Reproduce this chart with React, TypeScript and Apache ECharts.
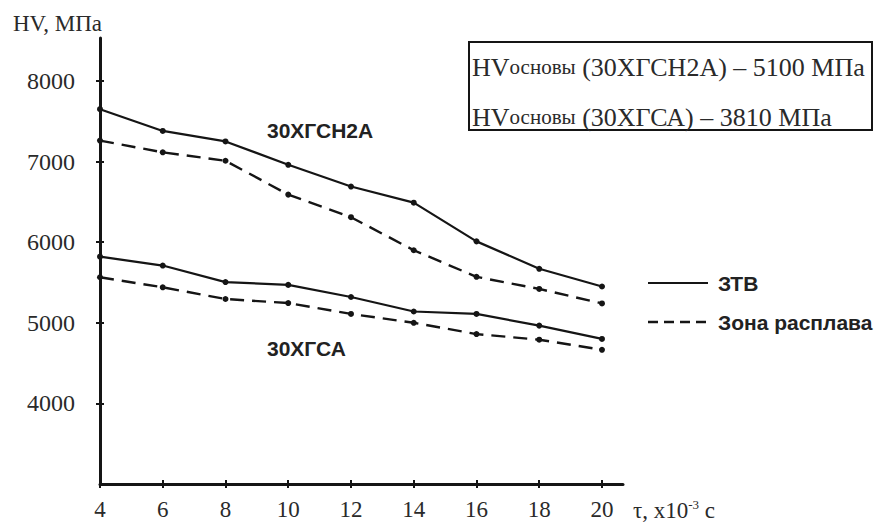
import React, { useEffect, useRef } from "react";
import * as echarts from "echarts";

const tau = [4, 6, 8, 10, 12, 14, 16, 18, 20];
const hvSN2A_ZTV = [7650, 7380, 7250, 6960, 6690, 6490, 6010, 5670, 5450];
const hvSN2A_melt = [7260, 7115, 7010, 6590, 6310, 5900, 5570, 5420, 5240];
const hvSA_ZTV = [5820, 5710, 5505, 5470, 5320, 5140, 5110, 4965, 4800];
const hvSA_melt = [5565, 5440, 5295, 5245, 5110, 5000, 4860, 4790, 4665];
const yTicks = [4000, 5000, 6000, 7000, 8000];
const xTicks = [4, 6, 8, 10, 12, 14, 16, 18, 20];

const SERIF = "Liberation Serif";
const SANS = "Liberation Sans";
const INK = "#151515";
const TXT = "#2a2a2a";

const X_MIN = 4;
const X_MAX = 20.67;
const Y_MIN = 3000;
const Y_MAX = 8533;

function lineSeries(name: string, values: number[], dashed: boolean) {
  return {
    name,
    type: "line",
    data: tau.map((t, i) => [t, values[i]]),
    symbol: "circle",
    symbolSize: 6,
    itemStyle: { color: INK },
    lineStyle: { color: INK, width: dashed ? 2.4 : 2.2, type: dashed ? [14, 8] : "solid" },
    z: 3,
  };
}

export default function App() {
  const ref = useRef<HTMLDivElement>(null);

  useEffect(() => {
    if (!ref.current) return;
    const chart = echarts.init(ref.current, null, { renderer: "svg" });
    const axisLineStyle = { color: INK, width: 3 };
    const tickStyle = { color: INK, width: 2 };
    chart.setOption({
      animation: false,
      backgroundColor: "#ffffff",
      textStyle: { fontFamily: SERIF },
      grid: { left: 100, top: 38, right: 256, bottom: 38 },
      xAxis: [
        {
          type: "value",
          min: X_MIN,
          max: X_MAX,
          position: "bottom",
          axisLine: { show: true, onZero: false, lineStyle: axisLineStyle },
          axisTick: { show: true, customValues: xTicks, length: 4, lineStyle: tickStyle },
          axisLabel: {
            customValues: xTicks,
            formatter: (v: number) => "{v|" + String(v) + "}",
            rich: { v: { fontSize: 23, fontFamily: SERIF, color: TXT } },
            margin: 14,
          },
          splitLine: { show: false },
          name: "{a|τ, x10}{s|-3}{a| c}",
          nameLocation: "end",
          nameGap: 10,
          nameTextStyle: {
            align: "left",
            verticalAlign: "top",
            padding: [14, 0, 0, 0],
            rich: {
              a: { fontSize: 23, fontFamily: SERIF, color: TXT },
              s: { fontSize: 13, fontFamily: SERIF, color: TXT, padding: [0, 0, 12, 0] },
            },
          },
        },
        {
          type: "value",
          min: X_MIN,
          max: X_MAX,
          position: "bottom",
          axisLine: { show: false, onZero: false },
          axisTick: { show: true, inside: true, customValues: xTicks, length: 4, lineStyle: tickStyle },
          axisLabel: { show: false },
          splitLine: { show: false },
        },
      ],
      yAxis: [
        {
          type: "value",
          min: Y_MIN,
          max: Y_MAX,
          position: "left",
          axisLine: { show: true, onZero: false, lineStyle: axisLineStyle },
          axisTick: { show: true, customValues: yTicks, length: 4, lineStyle: tickStyle },
          axisLabel: {
            customValues: yTicks,
            formatter: (v: number) => "{v|" + String(v) + "}",
            rich: { v: { fontSize: 24, fontFamily: SERIF, color: TXT } },
            margin: 25,
          },
          splitLine: { show: false },
          name: "{n|HV, МПа}",
          nameLocation: "end",
          nameGap: 3,
          nameTextStyle: {
            align: "right",
            verticalAlign: "bottom",
            padding: [0, -2, 0, 0],
            rich: {
              n: { fontSize: 23, fontFamily: SERIF, color: TXT },
            },
          },
        },
        {
          type: "value",
          min: Y_MIN,
          max: Y_MAX,
          position: "left",
          axisLine: { show: false, onZero: false },
          axisTick: { show: true, inside: true, customValues: yTicks, length: 4, lineStyle: tickStyle },
          axisLabel: { show: false },
          splitLine: { show: false },
        },
      ],
      series: [
        lineSeries("30ХГСН2А — ЗТВ", hvSN2A_ZTV, false),
        lineSeries("30ХГСН2А — Зона расплава", hvSN2A_melt, true),
        lineSeries("30ХГСА — ЗТВ", hvSA_ZTV, false),
        lineSeries("30ХГСА — Зона расплава", hvSA_melt, true),
      ],
      graphic: [
        {
          type: "rect",
          shape: { x: 469, y: 42, width: 403, height: 88 },
          style: { fill: "none", stroke: INK, lineWidth: 2 },
        },
        {
          type: "text",
          x: 472,
          y: 67,
          style: {
            text: "{a|HV}{b|основы}{a| (30ХГСН2А) – 5100 МПа}",
            verticalAlign: "middle",
            rich: {
              a: { fontSize: 26, fontFamily: SERIF, fill: TXT },
              b: { fontSize: 21, fontFamily: SERIF, fill: TXT },
            },
          },
        },
        {
          type: "text",
          x: 472,
          y: 117,
          style: {
            text: "{a|HV}{b|основы}{a| (30ХГСА) – 3810 МПа}",
            verticalAlign: "middle",
            rich: {
              a: { fontSize: 26, fontFamily: SERIF, fill: TXT },
              b: { fontSize: 21, fontFamily: SERIF, fill: TXT },
            },
          },
        },
        {
          type: "text",
          x: 267,
          y: 130,
          style: { text: "30ХГСН2А", fontSize: 21, fontWeight: "bold", fontFamily: SANS, fill: "#222", verticalAlign: "middle" },
        },
        {
          type: "text",
          x: 267,
          y: 348,
          style: { text: "30ХГСА", fontSize: 21, fontWeight: "bold", fontFamily: SANS, fill: "#222", verticalAlign: "middle" },
        },
        {
          type: "line",
          shape: { x1: 648, y1: 283, x2: 708, y2: 283 },
          style: { stroke: INK, lineWidth: 2 },
        },
        {
          type: "text",
          x: 718,
          y: 283,
          style: { text: "ЗТВ", fontSize: 21, fontWeight: "bold", fontFamily: SANS, fill: "#222", verticalAlign: "middle" },
        },
        {
          type: "line",
          shape: { x1: 648, y1: 322, x2: 708, y2: 322 },
          style: { stroke: INK, lineWidth: 2.4, lineDash: [10, 6] },
        },
        {
          type: "text",
          x: 718,
          y: 322,
          style: { text: "Зона расплава", fontSize: 21, fontWeight: "bold", fontFamily: SANS, fill: "#222", verticalAlign: "middle" },
        },
      ],
    });
    return () => chart.dispose();
  }, []);

  return (
    <div
      ref={ref}
      style={{ position: "fixed", left: 0, top: 0, width: 879, height: 522, background: "#fff" }}
    />
  );
}
